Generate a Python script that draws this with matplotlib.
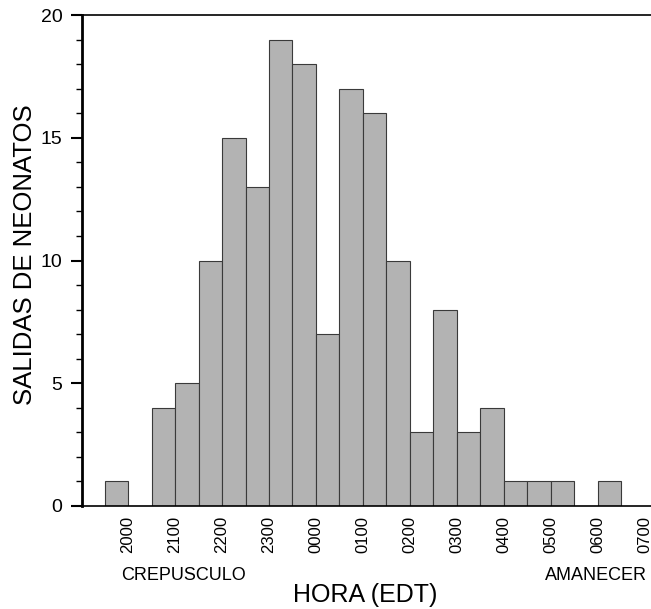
import numpy as np
import matplotlib
matplotlib.use("Agg")
import matplotlib.pyplot as plt

plt.rcParams['font.family'] = ['Liberation Sans', 'DejaVu Sans']

# half-hour bins, start time in hours after 2000 EDT
bin_starts = [-0.5, 0.0, 0.5, 1.0, 1.5, 2.0, 2.5, 3.0, 3.5, 4.0, 4.5,
              5.0, 5.5, 6.0, 6.5, 7.0, 7.5, 8.0, 8.5, 9.0, 9.5, 10.0]
salidas = [1, 0, 4, 5, 10, 15, 13, 19, 18, 7, 17,
           16, 10, 3, 8, 3, 4, 1, 1, 1, 0, 1]
hour_ticks = list(range(12))
hour_labels = ["2000", "2100", "2200", "2300", "0000", "0100",
               "0200", "0300", "0400", "0500", "0600", "0700"]

W, H = 651, 609
fig = plt.figure(figsize=(W / 100, H / 100), dpi=100)
ax = fig.add_axes([82 / W, (H - 506) / H, (W - 82) / W, (506 - 15) / H])

ax.bar(bin_starts, salidas, width=0.5, align='edge',
       color='#b3b3b3', edgecolor='#3a3a3a', linewidth=0.8)

ax.set_xlim(-0.98, 11.13)
ax.set_ylim(0, 20)

ax.spines['right'].set_visible(False)
ax.spines['left'].set_linewidth(2.0)
ax.spines['top'].set_linewidth(1.2)
ax.spines['bottom'].set_linewidth(1.2)

ax.set_yticks([0, 5, 10, 15, 20])
ax.set_yticks(np.arange(0, 21, 1), minor=True)
ax.tick_params(axis='y', which='major', length=8, width=1.5, pad=6, labelsize=14)
ax.tick_params(axis='y', which='minor', length=4, width=1.0)

ax.set_xticks(hour_ticks)
ax.set_xticklabels(hour_labels, rotation=90, fontsize=12)
ax.tick_params(axis='x', which='both', length=0, pad=7)

fig.text(25 / W, 1 - 255 / H, "SALIDAS DE NEONATOS", rotation=90,
         ha='center', va='center', fontsize=18.5)
fig.text(365 / W, 1 - 595 / H, "HORA (EDT)", ha='center', va='center', fontsize=18)
fig.text(184 / W, 1 - 575 / H, "CREPUSCULO", ha='center', va='center', fontsize=13)
fig.text(596 / W, 1 - 575 / H, "AMANECER", ha='center', va='center', fontsize=13)

fig.savefig("out.png", dpi=100)
